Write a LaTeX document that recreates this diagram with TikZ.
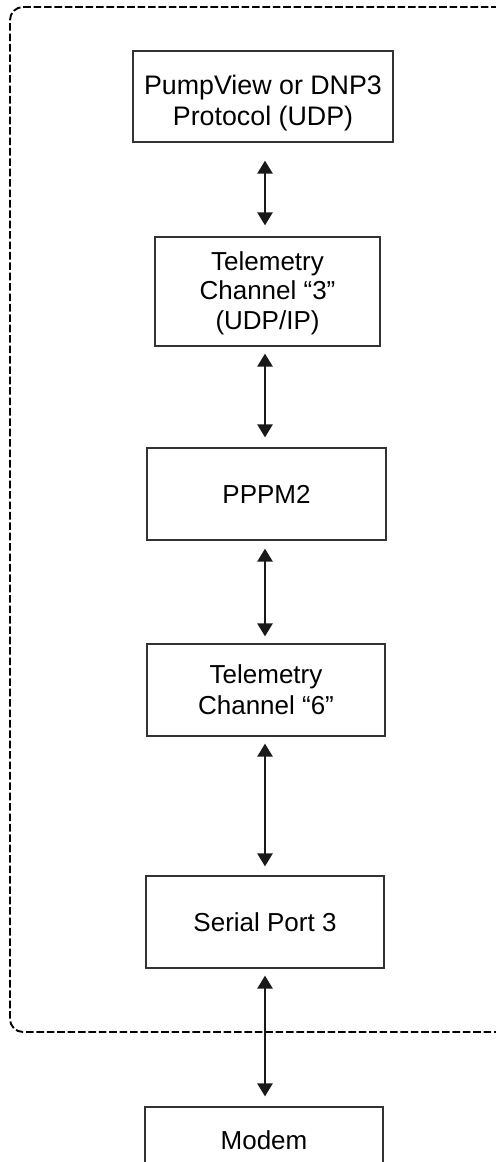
\documentclass[tikz,border=0pt]{standalone}
\usepackage{fontspec}
\setmainfont{Liberation Sans}
\usetikzlibrary{arrows.meta}
\begin{document}
\begin{tikzpicture}[x=0.5pt,y=-0.5pt,
  blockbox/.style={draw=black!80, line width=0.6pt, inner sep=0pt, align=center,
    font=\fontsize{13}{14.8}\selectfont, text=black},
  biarrow/.style={line width=1.25pt, black!90, {Triangle[width=7.5pt,length=6.5pt]}-{Triangle[width=7.5pt,length=6.5pt]}},
  frame/.style={draw=black, line width=0.95pt, dash pattern=on 3.8pt off 1.4pt, rounded corners=6.5pt}]
\useasboundingbox (0,0) rectangle (496,1162);
\clip (0,0) rectangle (496,1162);
\draw[frame] (530,7) -- (10,7) -- (10,1032) -- (530,1032);
\coordinate (ax) at (265,0);
\node[blockbox, minimum width=130pt, minimum height=45.5pt, font=\fontsize{13.4}{15.6}\selectfont] (b1) at (263,96.5) {\rule{0pt}{16pt}PumpView or DNP3\\Protocol (UDP)};
\node[blockbox, minimum width=112.5pt, minimum height=54.5pt] (b2) at (267.5,291.5) {\rule{0pt}{11pt}Telemetry\\Channel “3”\\(UDP/IP)};
\node[blockbox, minimum width=119.5pt, minimum height=46pt] (b3) at (266.5,494) {PPPM2};
\node[blockbox, minimum width=119pt, minimum height=46pt, font=\fontsize{13}{15.5}\selectfont] (b4) at (266,690) {Telemetry\\Channel “6”};
\node[blockbox, minimum width=119pt, minimum height=46pt] (b5) at (265,922) {Serial Port 3};
\node[blockbox, minimum width=119pt, minimum height=33pt] (b6) at (264,1140) {Modem};
\draw[biarrow, shorten <=9pt, shorten >=5.5pt] (b1.south -| ax) -- (b2.north -| ax);
\draw[biarrow, shorten <=3.5pt, shorten >=5pt] (b2.south -| ax) -- (b3.north -| ax);
\draw[biarrow, shorten <=4pt, shorten >=3.5pt] (b3.south -| ax) -- (b4.north -| ax);
\draw[biarrow, shorten <=3.5pt, shorten >=4.5pt] (b4.south -| ax) -- (b5.north -| ax);
\draw[biarrow, shorten <=3.5pt, shorten >=5pt] (b5.south -| ax) -- (b6.north -| ax);
\end{tikzpicture}
\end{document}
